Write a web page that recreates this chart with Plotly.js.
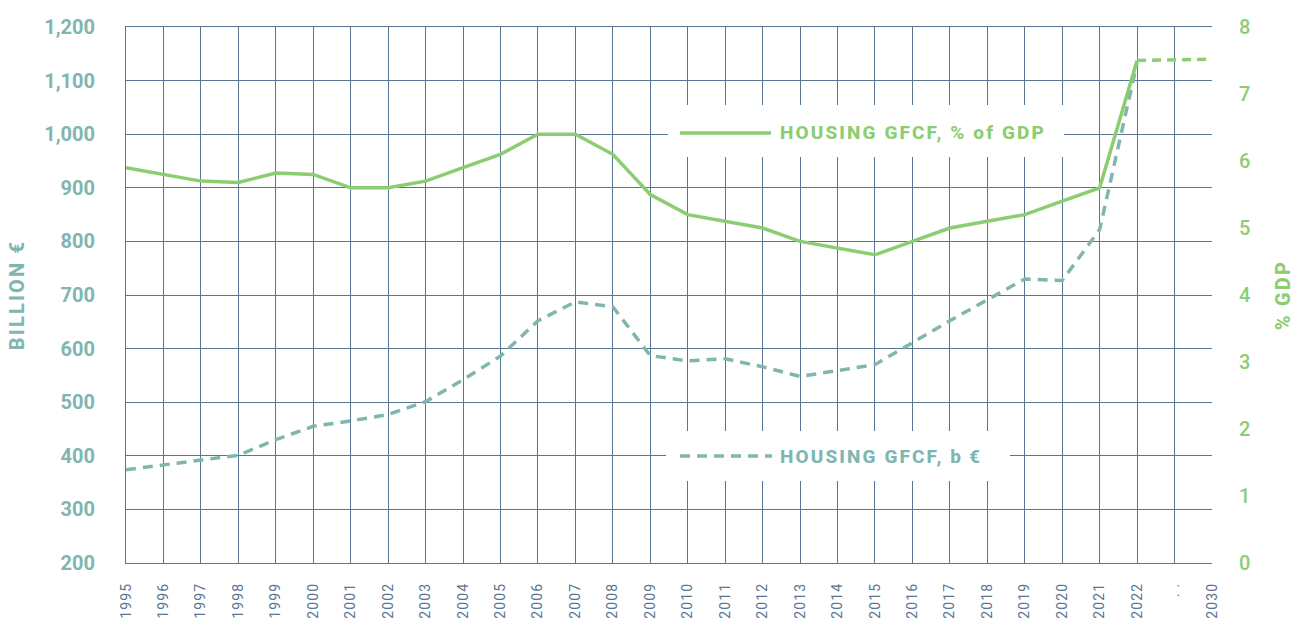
<!DOCTYPE html>
<html>
<head>
<meta charset="utf-8">
<script src="https://cdn.plot.ly/plotly-3.0.1.min.js"></script>
<style>
  html, body { margin:0; padding:0; background:#fff; }
  #chart { width:1296px; height:621px; }
  .xtick text { letter-spacing: 1.2px; }
  .annotation-text { letter-spacing: 2.1px; }
  .ytitle, .y2title { letter-spacing: 2.2px; }
</style>
</head>
<body>
<div id="chart"></div>
<script>
// Category labels on the x axis
const categories = ["1995","1996","1997","1998","1999","2000","2001","2002","2003","2004",
  "2005","2006","2007","2008","2009","2010","2011","2012","2013","2014","2015","2016",
  "2017","2018","2019","2020","2021","2022",". .","2030"];

// Housing GFCF, billion € (left axis), 1995-2022
const gfcfYears = ["1995","1996","1997","1998","1999","2000","2001","2002","2003","2004",
  "2005","2006","2007","2008","2009","2010","2011","2012","2013","2014","2015","2016",
  "2017","2018","2019","2020","2021","2022"];
const gfcfBillion = [374,383,392,401,430,455,465,477,501,542,586,652,687,678,587,577,581,566,548,559,570,611,652,691,730,727,822,1133];

// Housing GFCF, % of GDP (right axis), 1995-2022
const gfcfPctGdp = [5.9,5.8,5.7,5.68,5.82,5.8,5.6,5.6,5.7,5.9,6.1,6.4,6.4,6.1,5.5,5.2,5.1,5.0,4.8,4.7,4.6,4.8,5.0,5.1,5.2,5.4,5.6,7.5];

// Projection of % of GDP, 2022 -> 2030
const projYears = ["2022","2030"];
const projPctGdp = [7.5,7.52];

const GREEN = "#8dcd72";
const TEAL = "#80b6af";
const GRID = "#5a7591";

// plot area in pixels (for legend boxes)
const PL = 126, PR = 1212, PT = 27, PB = 563;
const px = v => (v - PL) / (PR - PL);
const py = v => (PB - v) / (PB - PT);

const traces = [
  {
    x: gfcfYears, y: gfcfBillion, yaxis: "y", type: "scatter", mode: "lines",
    line: {color: TEAL, width: 3.5, dash: "10px,7px"}, hoverinfo: "skip", showlegend: false
  },
  {
    x: gfcfYears, y: gfcfPctGdp, yaxis: "y2", type: "scatter", mode: "lines",
    line: {color: GREEN, width: 3.5}, hoverinfo: "skip", showlegend: false
  },
  {
    x: projYears, y: projPctGdp, yaxis: "y2", type: "scatter", mode: "lines",
    line: {color: GREEN, width: 3.5, dash: "9px,6px"}, hoverinfo: "skip", showlegend: false
  }
];

const layout = {
  width: 1296, height: 621,
  margin: {l: PL, r: 1296 - PR, t: PT, b: 621 - PB, pad: 0},
  paper_bgcolor: "#fff", plot_bgcolor: "#fff",
  showlegend: false,
  xaxis: {
    type: "category", categoryorder: "array", categoryarray: categories,
    tickvals: categories, ticktext: categories,
    range: [0, categories.length - 1],
    showgrid: true, gridcolor: GRID, gridwidth: 1,
    showline: true, linecolor: GRID, linewidth: 1, mirror: true,
    ticks: "", tickangle: -90, ticklabelstandoff: 13,
    tickfont: {family: "Roboto, sans-serif", size: 14, color: GRID},
    zeroline: false, fixedrange: true, automargin: false
  },
  yaxis: {
    range: [200, 1200], dtick: 100, tick0: 200, tickformat: ",",
    showgrid: true, gridcolor: GRID, gridwidth: 1,
    showline: true, linecolor: GRID, linewidth: 1,
    ticks: "", ticklabelstandoff: 26,
    tickfont: {family: "Roboto, sans-serif", size: 20, color: TEAL, weight: 700},
    title: {text: "BILLION €", standoff: 14, font: {family: "Roboto, sans-serif", size: 20, color: TEAL, weight: 800}},
    zeroline: false, fixedrange: true, automargin: false
  },
  yaxis2: {
    overlaying: "y", side: "right",
    range: [0, 8], dtick: 1, tick0: 0,
    showgrid: false, showline: false, zeroline: false,
    ticks: "", ticklabelstandoff: 26,
    tickfont: {family: "Roboto, sans-serif", size: 20, color: GREEN, weight: 500},
    title: {text: "% GDP", standoff: 26, font: {family: "Roboto, sans-serif", size: 20, color: GREEN, weight: 800}},
    fixedrange: true, automargin: false
  },
  shapes: [
    // legend 1 box
    {type: "rect", xref: "paper", yref: "paper", x0: px(668), x1: px(1064), y0: py(157), y1: py(105),
     fillcolor: "#fff", line: {width: 0}, layer: "above"},
    {type: "line", xref: "paper", yref: "paper", x0: px(680), x1: px(771), y0: py(133), y1: py(133),
     line: {color: GREEN, width: 3.5}, layer: "above"},
    // legend 2 box
    {type: "rect", xref: "paper", yref: "paper", x0: px(666), x1: px(1010), y0: py(481), y1: py(431),
     fillcolor: "#fff", line: {width: 0}, layer: "above"},
    {type: "line", xref: "paper", yref: "paper", x0: px(680), x1: px(772), y0: py(456), y1: py(456),
     line: {color: TEAL, width: 3.5, dash: "10px,7px"}, layer: "above"}
  ],
  annotations: [
    {xref: "paper", yref: "paper", x: px(778), y: py(133), xanchor: "left", yanchor: "middle",
     text: "HOUSING GFCF, % of GDP", showarrow: false,
     font: {family: "Roboto, sans-serif", size: 19, color: GREEN, weight: 800}},
    {xref: "paper", yref: "paper", x: px(778), y: py(456), xanchor: "left", yanchor: "middle",
     text: "HOUSING GFCF, b\u2009€", showarrow: false,
     font: {family: "Roboto, sans-serif", size: 19, color: TEAL, weight: 800}}
  ]
};

Plotly.newPlot("chart", traces, layout, {displayModeBar: false, staticPlot: true});
</script>
</body>
</html>
